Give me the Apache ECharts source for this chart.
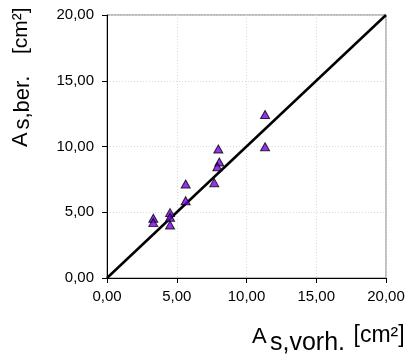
<!DOCTYPE html>
<html><head><meta charset="utf-8">
<script src="https://cdn.jsdelivr.net/npm/echarts@6/dist/echarts.min.js"></script>
<style>html,body{margin:0;padding:0;background:#fff}#c{width:411px;height:356px}</style>
</head><body><div id="c"></div>
<script>
const xVorh = [11.33, 11.33, 7.98, 8.05, 7.91, 7.69, 5.64, 5.64, 4.52, 4.52, 4.52, 3.32, 3.32];
const yBer  = [12.43, 9.98, 9.81, 8.82, 8.46, 7.25, 7.15, 5.88, 4.97, 4.62, 4.03, 4.54, 4.21];
const lineX = [0, 20];
const lineY = [0, 20];
const tickLabels = ['0,00', '5,00', '10,00', '15,00', '20,00'];
const xTitle = ['A', 's,vorh.', '[cm²]'];
const yTitle = ['A', 's,ber.', '[cm²]'];

const FF = '"Liberation Sans", Arial, sans-serif';
const pts = xVorh.map((x, i) => [x, yBer[i]]);
const linePts = lineX.map((x, i) => [x, lineY[i]]);
const fmt = v => tickLabels[Math.round(v / 5)];

function axis(isX) {
  return {
    type: 'value', min: 0, max: 20, interval: 5,
    axisLine: { show: true, onZero: false, lineStyle: { color: '#000', width: 1 } },
    axisTick: { show: true, inside: false, length: 5, lineStyle: { color: '#000' } },
    axisLabel: { formatter: fmt, fontFamily: FF, fontSize: 15, color: '#000', margin: isX ? 11 : 13 },
    splitLine: { show: true, lineStyle: { color: '#d9d9d9', type: [1, 2], width: 1 } }
  };
}

const chart = echarts.init(document.getElementById('c'), null, { renderer: 'canvas' });
chart.setOption({
  animation: false,
  backgroundColor: '#fff',
  grid: { left: 107, right: 25, top: 15, bottom: 78, show: true, borderColor: '#808080', borderWidth: 1, backgroundColor: 'transparent' },
  xAxis: axis(true),
  yAxis: axis(false),
  series: [
    { type: 'line', data: linePts, showSymbol: false, symbol: 'none', lineStyle: { color: '#000', width: 2.5 }, z: 2 },
    { type: 'scatter', data: pts, symbol: 'triangle', symbolSize: [9, 8],
      itemStyle: { color: '#7800e8', borderColor: '#000', borderWidth: 1 }, z: 3 }
  ],
  graphic: [
    { type: 'group', x: 0, y: 0, children: [
      { type: 'text', x: 252, y: 337, style: { text: xTitle[0], font: '22px ' + FF, fill: '#000', align: 'left', verticalAlign: 'middle' } },
      { type: 'text', x: 270, y: 343, style: { text: xTitle[1], font: '25px ' + FF, fill: '#000', align: 'left', verticalAlign: 'middle' } },
      { type: 'text', x: 353.5, y: 335.5, style: { text: xTitle[2], font: '23px ' + FF, fill: '#000', align: 'left', verticalAlign: 'middle' } }
    ]},
    { type: 'group', x: 28.3, y: 148, rotation: Math.PI / 2, children: [
      { type: 'text', x: 1, y: -7.6, style: { text: yTitle[0], font: '22px ' + FF, fill: '#000', align: 'left', verticalAlign: 'middle' } },
      { type: 'text', x: 18.5, y: -5.4, style: { text: yTitle[1], font: '22px ' + FF, fill: '#000', align: 'left', verticalAlign: 'middle' } },
      { type: 'text', x: 94, y: -7.3, style: { text: yTitle[2], font: '21px ' + FF, fill: '#000', align: 'left', verticalAlign: 'middle' } }
    ]}
  ]
});
</script></body></html>
